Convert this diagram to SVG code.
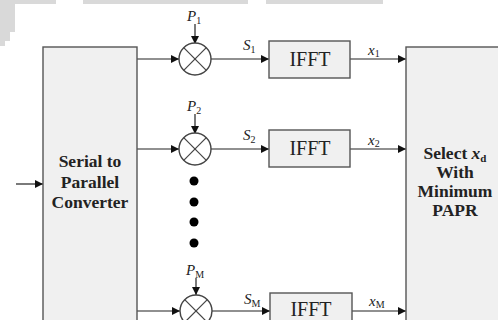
<svg xmlns="http://www.w3.org/2000/svg" width="498" height="320" viewBox="0 0 498 320">
<defs>
<marker id="ah" viewBox="0 0 10 10" refX="10" refY="5" markerWidth="8" markerHeight="8" markerUnits="userSpaceOnUse" orient="auto"><path d="M0,0 L10,5 L0,10 z" fill="#111"/></marker>
<style>
.box{fill:#f0f0f0;stroke:#555;stroke-width:1.4}
.ln{stroke:#222;stroke-width:1.2;fill:none;marker-end:url(#ah)}
.mx{fill:#fff;stroke:#444;stroke-width:1.4}
.mxl{stroke:#444;stroke-width:1.2}
.bt{font-family:"Liberation Serif",serif;font-weight:bold;font-size:17.5px;fill:#222;text-anchor:middle}
.it{font-family:"Liberation Serif",serif;font-style:italic;font-size:15px;fill:#222}
.sb{font-family:"Liberation Serif",serif;font-style:normal;font-size:10px}
.ifft{font-family:"Liberation Serif",serif;font-size:20px;fill:#222;text-anchor:middle}
</style>
</defs>
<rect width="498" height="320" fill="#fff"/>
<g id="scan-edge" fill="#d9d9d9">
<rect x="0" y="0" width="56" height="4"/>
<rect x="83" y="0" width="165" height="4"/>
<rect x="266" y="0" width="117" height="4"/>
<polygon points="0,0 15,0 15,32 10,32 10,41 5,41 5,46 0,46"/>
</g>
<g id="connectors">
<line class="ln" x1="16" y1="184" x2="43" y2="184"/>
<line class="ln" x1="137" y1="59" x2="179" y2="59"/>
<line class="ln" x1="137" y1="149" x2="179" y2="149"/>
<line class="ln" x1="137" y1="311" x2="180" y2="311"/>
<line class="ln" x1="195" y1="24" x2="195" y2="44"/>
<line class="ln" x1="195" y1="114" x2="195" y2="134"/>
<line class="ln" x1="196" y1="278" x2="196" y2="295"/>
<line class="ln" x1="211" y1="59" x2="269" y2="59"/>
<line class="ln" x1="211" y1="149" x2="269" y2="149"/>
<line class="ln" x1="212" y1="311" x2="270" y2="311"/>
<line class="ln" x1="350" y1="59" x2="406" y2="59"/>
<line class="ln" x1="350" y1="149" x2="406" y2="149"/>
<line class="ln" x1="352" y1="311" x2="406" y2="311"/>
</g>
<g id="serial-to-parallel">
<rect class="box" x="43" y="47" width="94" height="280"/>
<text class="bt" x="90" y="167">Serial to</text>
<text class="bt" x="90" y="188">Parallel</text>
<text class="bt" x="90" y="208">Converter</text>
</g>
<g id="select">
<rect class="box" x="406" y="47" width="100" height="280"/>
<text class="bt" x="455" y="159">Select <tspan font-style="italic">x</tspan><tspan font-size="11" dy="3">d</tspan></text>
<text class="bt" x="455" y="178">With</text>
<text class="bt" x="455" y="197">Minimum</text>
<text class="bt" x="455" y="216">PAPR</text>
</g>
<g id="mult1">
<circle class="mx" cx="195" cy="59" r="16"/>
<line class="mxl" x1="183.7" y1="47.7" x2="206.3" y2="70.3"/>
<line class="mxl" x1="206.3" y1="47.7" x2="183.7" y2="70.3"/>
<text class="it" x="187" y="21">P<tspan class="sb" dy="3">1</tspan></text>
</g>
<g id="mult2">
<circle class="mx" cx="195" cy="149" r="16"/>
<line class="mxl" x1="183.7" y1="137.7" x2="206.3" y2="160.3"/>
<line class="mxl" x1="206.3" y1="137.7" x2="183.7" y2="160.3"/>
<text class="it" x="187" y="111">P<tspan class="sb" dy="3">2</tspan></text>
</g>
<g id="multM">
<circle class="mx" cx="196" cy="311" r="16"/>
<line class="mxl" x1="184.7" y1="299.7" x2="207.3" y2="322.3"/>
<line class="mxl" x1="207.3" y1="299.7" x2="184.7" y2="322.3"/>
<text class="it" x="186" y="275">P<tspan class="sb" dy="3">M</tspan></text>
</g>
<g id="dots" fill="#000">
<circle cx="194" cy="181" r="4.5"/>
<circle cx="194" cy="202" r="4.5"/>
<circle cx="194" cy="222" r="4.5"/>
<circle cx="194" cy="243" r="4.5"/>
</g>
<g id="ifft1">
<rect class="box" x="269" y="41" width="81" height="37"/>
<text class="ifft" x="310" y="66">IFFT</text>
</g>
<g id="ifft2">
<rect class="box" x="269" y="130" width="81" height="37"/>
<text class="ifft" x="310" y="155">IFFT</text>
</g>
<g id="ifftM">
<rect class="box" x="270" y="293" width="82" height="37"/>
<text class="ifft" x="311" y="316">IFFT</text>
</g>
<g id="labels">
<text class="it" x="243" y="50">S<tspan class="sb" dy="3">1</tspan></text>
<text class="it" x="243" y="140">S<tspan class="sb" dy="3">2</tspan></text>
<text class="it" x="244" y="304">S<tspan class="sb" dy="3">M</tspan></text>
<text class="it" x="368" y="55">x<tspan class="sb" dy="2">1</tspan></text>
<text class="it" x="368" y="145">x<tspan class="sb" dy="2">2</tspan></text>
<text class="it" x="369" y="306">x<tspan class="sb" dy="2">M</tspan></text>
</g>
</svg>
